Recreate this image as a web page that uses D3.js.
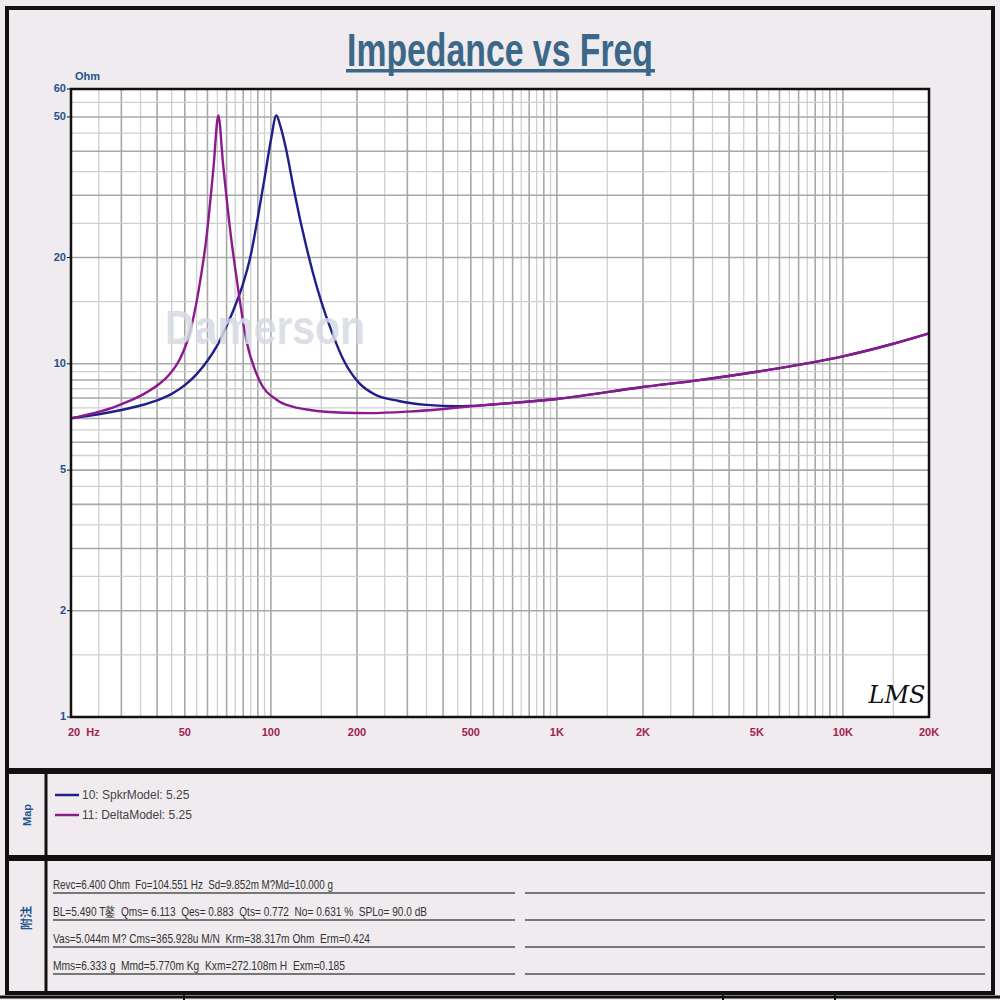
<!DOCTYPE html>
<html>
<head>
<meta charset="utf-8">
<script src="https://cdn.jsdelivr.net/npm/d3@7"></script>
<style>
  body { margin: 0; background: #fff; }
  svg { display: block; }
</style>
</head>
<body>
<div id="chart"></div>
<script>
// impedance readings (Hz, Ohm)
const spkrFreq = [20, 25, 30, 35, 40, 45, 50, 55, 60, 65, 70, 75, 80, 85, 90, 95, 100, 104.5, 108, 113, 120, 126, 133, 140, 150, 164, 180, 204, 230, 280, 350, 450, 500, 700, 1000, 2000, 3000, 5000, 10000, 15000, 20000];
const spkrOhm  = [7.02, 7.2, 7.4, 7.62, 7.88, 8.22, 8.7, 9.35, 10.2, 11.3, 12.8, 14.6, 16.9, 20.3, 26.0, 33.5, 43.0, 50.5, 47.0, 40.5, 31.5, 26.0, 21.5, 18.2, 15.0, 12.2, 10.2, 8.8, 8.2, 7.85, 7.65, 7.58, 7.6, 7.75, 7.95, 8.6, 8.95, 9.5, 10.5, 11.4, 12.2];

const deltaFreq = [20, 24, 28, 32, 36, 40, 44, 48, 52, 56, 59.6, 63, 65.5, 68, 72, 76, 82, 91, 105, 120, 137, 180, 220, 300, 400, 500, 700, 1000, 2000, 3000, 5000, 10000, 15000, 20000];
const deltaOhm  = [7.0, 7.25, 7.52, 7.85, 8.22, 8.68, 9.3, 10.3, 12.2, 16.3, 23.0, 36.0, 50.5, 37.0, 24.0, 17.3, 11.7, 9.0, 7.9, 7.55, 7.4, 7.27, 7.25, 7.32, 7.45, 7.58, 7.75, 7.95, 8.6, 8.95, 9.5, 10.5, 11.4, 12.2];

const seriesNames  = ["10: SpkrModel: 5.25", "11: DeltaModel: 5.25"];
const seriesColors = ["#1e1e8c", "#8c1a8e"];

const xTickVals   = [20, 50, 100, 200, 500, 1000, 2000, 5000, 10000, 20000];
const xTickLabels = ["20  Hz", "50", "100", "200", "500", "1K", "2K", "5K", "10K", "20K"];
const yTickVals   = [1, 2, 5, 10, 20, 50, 60];

const notes = [
  "Revc=6.400 Ohm  Fo=104.551 Hz  Sd=9.852m M?Md=10.000 g",
  "BL=5.490 T鏊  Qms= 6.113  Qes= 0.883  Qts= 0.772  No= 0.631 %  SPLo= 90.0 dB",
  "Vas=5.044m M? Cms=365.928u M/N  Krm=38.317m Ohm  Erm=0.424",
  "Mms=6.333 g  Mmd=5.770m Kg  Kxm=272.108m H  Exm=0.185"
];
const noteLengths = [280, 374, 317, 292];

const width = 1000, height = 1000;
const bg = "#efebee";
const plot = {left: 71, right: 929, top: 89, bottom: 717};

let svg = d3.select("#chart").append("svg")
    .attr("width", width)
    .attr("height", height)
    .attr("font-family", "Arial, 'Liberation Sans', sans-serif");

svg.append("rect").attr("width", width).attr("height", height).attr("fill", bg);

// panels
let frame = svg.append("g").attr("fill", "none").attr("stroke", "#111");
frame.append("rect").attr("x", 7).attr("y", 8).attr("width", 986).attr("height", 762).attr("stroke-width", 4);
frame.append("rect").attr("x", 7).attr("y", 772).attr("width", 986).attr("height", 85).attr("stroke-width", 4);
frame.append("rect").attr("x", 7).attr("y", 859).attr("width", 986).attr("height", 134).attr("stroke-width", 4);
frame.append("line").attr("x1", 46).attr("x2", 46).attr("y1", 772).attr("y2", 993).attr("stroke-width", 3);
frame.append("line").attr("x1", 0).attr("x2", 1000).attr("y1", 997).attr("y2", 997).attr("stroke-width", 3);
[184, 723, 835].forEach(x => frame.append("line")
    .attr("x1", x).attr("x2", x).attr("y1", 995).attr("y2", 1000).attr("stroke-width", 2));

// title
svg.append("text")
    .attr("x", 500).attr("y", 66)
    .attr("text-anchor", "middle")
    .attr("font-family", "'Liberation Sans Narrow', 'Arial Narrow', Arial, sans-serif")
    .attr("font-weight", "bold")
    .attr("font-size", 46)
    .attr("fill", "#3b6888")
    .attr("textLength", 306)
    .attr("lengthAdjust", "spacingAndGlyphs")
    .text("Impedance vs Freq");
svg.append("rect").attr("x", 346).attr("y", 69).attr("width", 309).attr("height", 3.5).attr("fill", "#3b6888");

// scales
let x = d3.scaleLog().domain([20, 20000]).range([plot.left, plot.right]);
let y = d3.scaleLog().domain([1, 60]).range([plot.bottom, plot.top]);

svg.append("rect")
    .attr("x", plot.left).attr("y", plot.top)
    .attr("width", plot.right - plot.left).attr("height", plot.bottom - plot.top)
    .attr("fill", "#fff");

// grid: half steps light, whole steps darker
let xGrid = [];
[10, 100, 1000, 10000].forEach(dec => {
    for (let m = 1; m < 10; m += 0.5) {
        let v = m * dec;
        if (v > 20 && v < 20000) xGrid.push({v: v, major: m % 1 === 0});
    }
});
let yGrid = [];
for (let m = 1.5; m <= 10; m += 0.5) yGrid.push({v: m, major: m % 1 === 0});
for (let m = 15; m < 60; m += 5) yGrid.push({v: m, major: m % 10 === 0});

let grid = svg.append("g");
grid.selectAll(".vg").data(xGrid).join("line")
    .attr("x1", d => x(d.v)).attr("x2", d => x(d.v))
    .attr("y1", plot.top).attr("y2", plot.bottom)
    .attr("stroke", d => d.major ? "#a8a8a8" : "#cfcfcf")
    .attr("stroke-width", d => d.major ? 1.6 : 1.3);
grid.selectAll(".hg").data(yGrid).join("line")
    .attr("x1", plot.left).attr("x2", plot.right)
    .attr("y1", d => y(d.v)).attr("y2", d => y(d.v))
    .attr("stroke", d => d.major ? "#a8a8a8" : "#cfcfcf")
    .attr("stroke-width", d => d.major ? 1.6 : 1.3);

// curves
let line = d3.line()
    .x(d => x(d[0]))
    .y(d => y(d[1]))
    .curve(d3.curveMonotoneX);

let series = [
    d3.zip(spkrFreq, spkrOhm),
    d3.zip(deltaFreq, deltaOhm)
];
svg.append("g").selectAll("path")
    .data(series)
    .join("path")
        .attr("fill", "none")
        .attr("stroke", (d, i) => seriesColors[i])
        .attr("stroke-width", 2.4)
        .attr("stroke-linejoin", "round")
        .attr("d", line);

// watermark
svg.append("text")
    .attr("x", 165).attr("y", 344)
    .attr("font-family", "'Liberation Sans Narrow', 'Arial Narrow', Arial, sans-serif")
    .attr("font-weight", "bold")
    .attr("font-size", 48)
    .attr("fill", "#d6dae2")
    .attr("fill-opacity", 0.85)
    .attr("textLength", 200)
    .attr("lengthAdjust", "spacingAndGlyphs")
    .text("Damerson");

// LMS mark
svg.append("text")
    .attr("x", 897).attr("y", 703)
    .attr("text-anchor", "middle")
    .attr("font-family", "'DejaVu Serif', serif")
    .attr("font-style", "italic")
    .attr("font-size", 24)
    .attr("fill", "#111")
    .text("LMS");

// plot border
svg.append("rect")
    .attr("x", plot.left).attr("y", plot.top)
    .attr("width", plot.right - plot.left).attr("height", plot.bottom - plot.top)
    .attr("fill", "none").attr("stroke", "#111").attr("stroke-width", 2.5);

// y axis labels
let yAxis = svg.append("g")
    .attr("font-size", 11).attr("font-weight", "bold").attr("fill", "#24528c");
yAxis.selectAll("text").data(yTickVals).join("text")
    .attr("x", 66).attr("y", d => y(d) + 3)
    .attr("text-anchor", "end")
    .text(d => d);
yAxis.selectAll("line").data(yTickVals).join("line")
    .attr("x1", 67).attr("x2", plot.left)
    .attr("y1", d => y(d)).attr("y2", d => y(d))
    .attr("stroke", "#111").attr("stroke-width", 1);
yAxis.append("text").attr("x", 75).attr("y", 80).text("Ohm");

// x axis labels
svg.append("g")
    .attr("font-size", 11).attr("font-weight", "bold").attr("fill", "#a3204f")
    .selectAll("text").data(xTickVals).join("text")
        .attr("x", (d, i) => i === 0 ? x(d) - 3 : x(d))
        .attr("y", 736)
        .attr("text-anchor", (d, i) => i === 0 ? "start" : "middle")
        .attr("xml:space", "preserve")
        .style("white-space", "pre")
        .text((d, i) => xTickLabels[i]);

// map panel
svg.append("text")
    .attr("transform", "translate(31,815) rotate(-90)")
    .attr("text-anchor", "middle")
    .attr("font-size", 11).attr("font-weight", "bold").attr("fill", "#24528c")
    .text("Map");

let legend = svg.append("g").selectAll("g")
    .data(seriesNames)
    .join("g")
        .attr("transform", (d, i) => `translate(55,${795 + i * 20})`);
legend.append("line")
    .attr("x1", 0).attr("x2", 24)
    .attr("stroke", (d, i) => seriesColors[i]).attr("stroke-width", 2.5);
legend.append("text")
    .attr("x", 27).attr("y", 4)
    .attr("font-size", 12).attr("fill", "#444")
    .text(d => d);

// notes panel
svg.append("text")
    .attr("transform", "translate(31,918) rotate(-90)")
    .attr("text-anchor", "middle")
    .attr("font-family", "'Noto Sans CJK SC', sans-serif")
    .attr("font-size", 12).attr("font-weight", "bold").attr("fill", "#24528c")
    .text("附注");

let noteRows = svg.append("g").selectAll("g")
    .data(notes)
    .join("g")
        .attr("transform", (d, i) => `translate(0,${893 + i * 27})`);
noteRows.append("text")
    .attr("x", 53).attr("y", -4)
    .attr("font-size", 13).attr("fill", "#333")
    .attr("xml:space", "preserve")
    .style("white-space", "pre")
    .attr("textLength", (d, i) => noteLengths[i])
    .attr("lengthAdjust", "spacingAndGlyphs")
    .text(d => d);
noteRows.append("line")
    .attr("x1", 53).attr("x2", 515)
    .attr("stroke", "#777").attr("stroke-width", 2);
noteRows.append("line")
    .attr("x1", 525).attr("x2", 985)
    .attr("stroke", "#777").attr("stroke-width", 2);
</script>
</body>
</html>
